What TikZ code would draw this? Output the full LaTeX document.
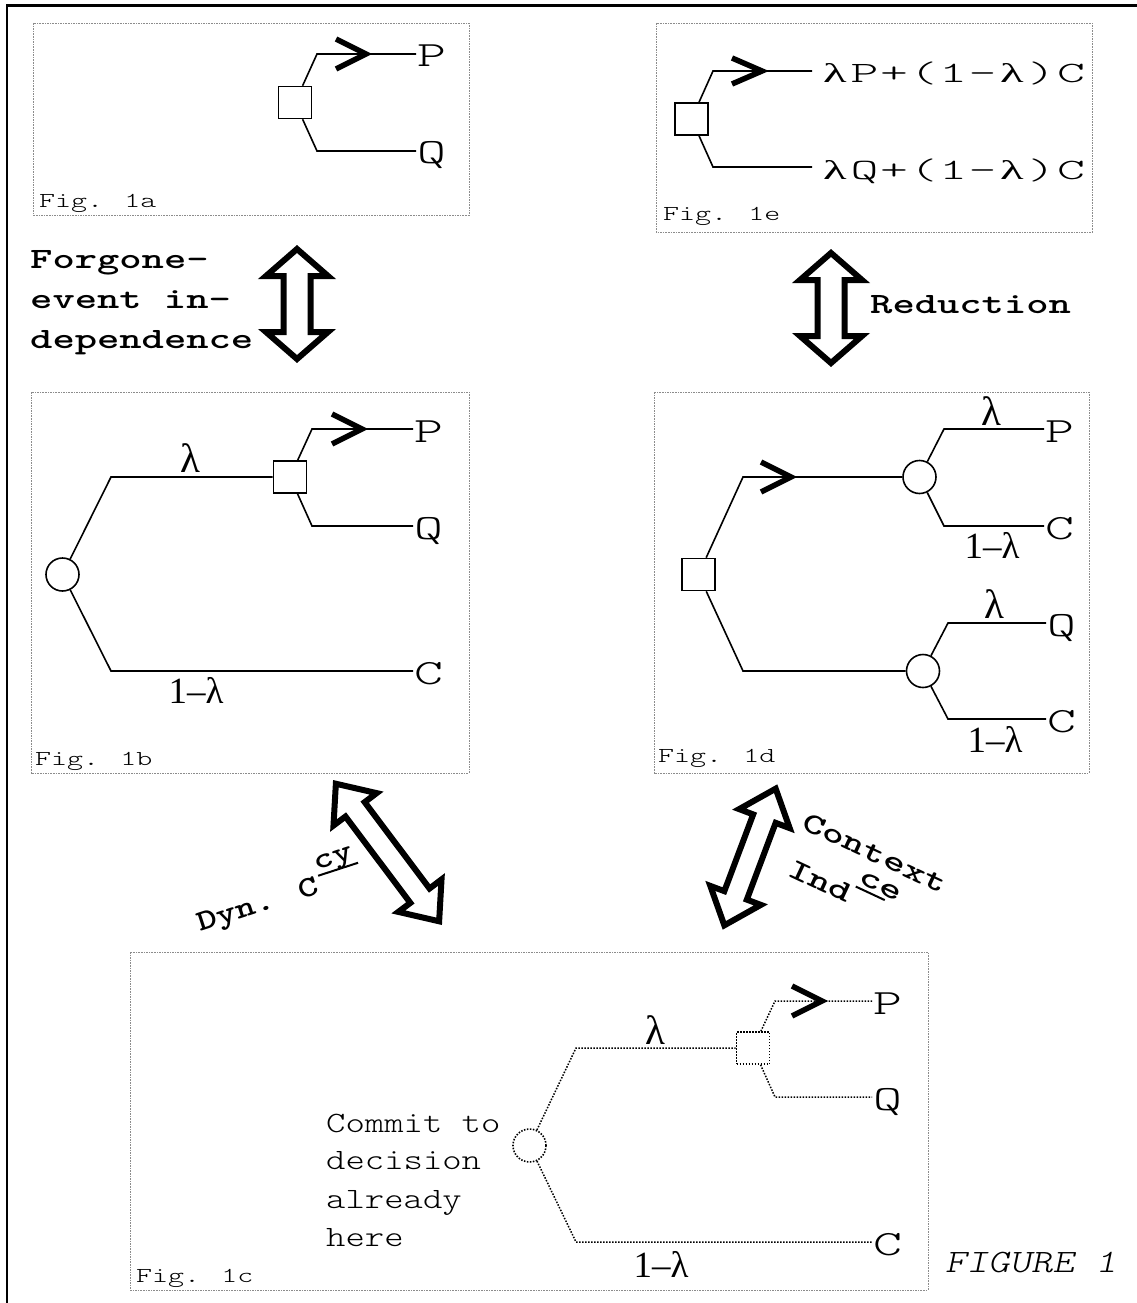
\documentclass[tikz,border=0pt]{standalone}
\usepackage{fontspec}
\usepackage{graphicx}
\setmainfont{lmmonolt10-regular.otf}
\newfontfamily\FigFont[FakeStretch=1.43]{lmmonolt10-regular.otf}
\newfontfamily\BoldFont[FakeStretch=1.44]{lmmonolt10-bold.otf}
\newfontfamily\DynFont[FakeStretch=1.29]{lmmonolt10-bold.otf}
\newfontfamily\TextFont[FakeStretch=1.25]{lmmonolt10-regular.otf}
\newfontfamily\ItFont[FakeStretch=1.25]{lmmonolt10-oblique.otf}
\newfontfamily\LeafFont[FakeStretch=1.55]{lmmonolt10-regular.otf}
\newfontfamily\PlainMono{lmmonolt10-regular.otf}
\newfontfamily\LamFont{Liberation Serif}
\newcommand\Slot[1]{\makebox[29.5pt]{\scalebox{1.8}[1]{#1}}}
\newcommand\SerifSl[1]{{\LamFont\fontsize{27}{27}\selectfont #1}}
\newcommand\ExprText[1]{\Slot{\SerifSl{λ}}\Slot{#1}\Slot{+}\Slot{(}\Slot{1}\Slot{-}\Slot{\SerifSl{λ}}\Slot{)}\Slot{C}}
\newcommand\HollowArrow[6]{%
\begin{scope}[shift={(#1)},rotate=#2]
\draw[hollow] (0,-#3) -- (#5,{-#3+#4}) -- (#6,{-#3+#4}) -- (#6,{#3-#4}) -- (#5,{#3-#4}) -- (0,#3)
  -- (-#5,{#3-#4}) -- (-#6,{#3-#4}) -- (-#6,{-#3+#4}) -- (-#5,{-#3+#4}) -- cycle;
\end{scope}}
\begin{document}
\begin{tikzpicture}[x=1pt,y=-1pt,
 box/.style={draw=black!45, line width=0.8pt, dash pattern=on 1.6pt off 1pt},
 br/.style={line width=1.6pt},
 dbr/.style={line width=1.5pt, dash pattern=on 1.5pt off 1.5pt},
 sq/.style={draw, rectangle, line width=1.6pt, minimum width=33pt, minimum height=32pt, inner sep=0pt},
 circ/.style={draw, circle, line width=1.6pt, minimum size=33pt, inner sep=0pt},
 chev/.style={line width=5.5pt, line join=miter, miter limit=10},
 leaf/.style={anchor=west, inner xsep=1pt, inner ysep=0pt, text height=26pt, text depth=0pt, font=\LeafFont\fontsize{35.5}{35.5}\selectfont},
 expr/.style={anchor=west, inner xsep=8pt, inner ysep=0pt, text height=24pt, text depth=0pt, font=\PlainMono\fontsize{29.5}{29.5}\selectfont},
 blab/.style={inner sep=0pt, font=\LamFont\fontsize{41}{41}\selectfont},
 blabb/.style={inner sep=0pt, font=\LamFont\fontsize{37}{37}\selectfont},
 figlab/.style={anchor=base west, inner sep=0pt, font=\FigFont\fontsize{21.3}{21.3}\selectfont},
 boldlab/.style={anchor=base west, inner sep=0pt, font=\BoldFont\fontsize{29.5}{29.5}\selectfont},
 note/.style={anchor=base west, inner sep=0pt, font=\TextFont\fontsize{29.5}{29.5}\selectfont},
 hollow/.style={draw, fill=white, line width=6pt, line join=miter, miter limit=6}
]
\useasboundingbox (0,0) rectangle (1137,1303);
\fill[white] (0,0) rectangle (1137,1303);
% outer frame
\draw[line width=2.5pt] (7.2,1310) -- (7.2,5.3) -- (1145,5.3);

% frames
\draw[box] (33,23) rectangle (469,215);
\draw[box] (656,23) rectangle (1092,232);
\draw[box] (31,392) rectangle (469,773);
\draw[box] (654,392) rectangle (1089,773);
\draw[box] (130,952) rectangle (928,1290);

% ---------- Fig 1a ----------
\node[sq] (a-sq) at (295,102.5) {};
\coordinate (a-b1) at (317,54);
\coordinate (a-b2) at (317,151);
\node[leaf] (a-P) at (416,54) {P};
\node[leaf] (a-Q) at (416,151) {Q};
\draw[br] (a-sq) -- (a-b1) -- (a-P.west);
\draw[br] (a-sq) -- (a-b2) -- (a-Q.west);
\coordinate (a-tip) at (366,54);
\draw[chev] (a-tip) ++(-30,-15) -- (a-tip) -- ++(-30,15);
\node[figlab] (a-fig) at (39,207) {Fig. 1a};

% ---------- Fig 1e ----------
\node[sq] (e-sq) at (691.5,119) {};
\coordinate (e-b1) at (713,71);
\coordinate (e-b2) at (713,167);
\node[expr] (e-1) at (812,71) {\ExprText{P}};
\node[expr] (e-2) at (812,167) {\ExprText{Q}};
\draw[br] (e-sq) -- (e-b1) -- (e-1.west);
\draw[br] (e-sq) -- (e-b2) -- (e-2.west);
\coordinate (e-tip) at (762,71);
\draw[chev] (e-tip) ++(-30,-13) -- (e-tip) -- ++(-30,13);
\node[figlab] (e-fig) at (663,220) {Fig. 1e};

% ---------- Fig 1b ----------
\node[circ] (b-c) at (62.5,574.5) {};
\node[sq] (b-sq) at (290,477) {};
\coordinate (b-b1) at (111,477);
\coordinate (b-b2) at (312,429);
\coordinate (b-b3) at (312,526);
\coordinate (b-b4) at (111,671);
\node[leaf] (b-P) at (413,429) {P};
\node[leaf] (b-Q) at (413,526) {Q};
\node[leaf] (b-C) at (413,671) {C};
\draw[br] (b-c) -- (b-b1) -- (b-sq);
\draw[br] (b-sq) -- (b-b2) -- (b-P.west);
\draw[br] (b-sq) -- (b-b3) -- (b-Q.west);
\draw[br] (b-c) -- (b-b4) -- (b-C.west);
\coordinate (b-tip) at (362,429);
\draw[chev] (b-tip) ++(-30,-15) -- (b-tip) -- ++(-30,15);
\node[blab] (b-l1) at (190,458) {λ};
\node[blabb] (b-l2) at (196,690) {1–λ};
\node[figlab] (b-fig) at (35,765) {Fig. 1b};

% ---------- Fig 1d ----------
\node[sq] (d-sq) at (698.5,574.5) {};
\node[circ] (d-c1) at (919.5,477) {};
\node[circ] (d-c2) at (923,671) {};
\coordinate (d-b1) at (743,477);
\coordinate (d-b2) at (743,671);
\coordinate (d-b3) at (944,429);
\coordinate (d-b4) at (944,526);
\coordinate (d-b5) at (948,623);
\coordinate (d-b6) at (948,719);
\node[leaf] (d-P) at (1044,429) {P};
\node[leaf] (d-C1) at (1044,526) {C};
\node[leaf] (d-Q) at (1046,623) {Q};
\node[leaf] (d-C2) at (1046,719) {C};
\draw[br] (d-sq) -- (d-b1) -- (d-c1);
\draw[br] (d-sq) -- (d-b2) -- (d-c2);
\draw[br] (d-c1) -- (d-b3) -- (d-P.west);
\draw[br] (d-c1) -- (d-b4) -- (d-C1.west);
\draw[br] (d-c2) -- (d-b5) -- (d-Q.west);
\draw[br] (d-c2) -- (d-b6) -- (d-C2.west);
\coordinate (d-tip) at (791,477);
\draw[chev] (d-tip) ++(-30,-15) -- (d-tip) -- ++(-30,15);
\node[blab] (d-l1) at (991,411) {λ};
\node[blabb] (d-l2) at (992,545) {1–λ};
\node[blab] (d-l3) at (994,604) {λ};
\node[blabb] (d-l4) at (995,739) {1–λ};
\node[figlab] (d-fig) at (658,762) {Fig. 1d};

% ---------- Fig 1c ----------
\node[circ, dash pattern=on 1.5pt off 1.5pt] (c-c) at (529.5,1145.5) {};
\node[sq, dash pattern=on 1.5pt off 1.5pt] (c-sq) at (753,1048) {};
\coordinate (c-b1) at (576,1048);
\coordinate (c-b2) at (775,1001);
\coordinate (c-b3) at (775,1097);
\coordinate (c-b4) at (576,1242);
\node[leaf] (c-P) at (872,1001) {P};
\node[leaf] (c-Q) at (872,1097) {Q};
\node[leaf] (c-C) at (872,1242) {C};
\draw[dbr] (c-c) -- (c-b1) -- (c-sq);
\draw[dbr] (c-sq) -- (c-b2) -- (c-P.west);
\draw[dbr] (c-sq) -- (c-b3) -- (c-Q.west);
\draw[dbr] (c-c) -- (c-b4) -- (c-C.west);
\coordinate (c-tip) at (822,1001);
\draw[chev] (c-tip) ++(-30,-15) -- (c-tip) -- ++(-30,15);
\node[blab] (c-l1) at (655,1030) {λ};
\node[blabb] (c-l2) at (661,1264) {1–λ};
\node[note] (c-t1) at (326,1132) {Commit to};
\node[note] (c-t2) at (326,1169) {decision};
\node[note] (c-t3) at (326,1208) {already};
\node[note] (c-t4) at (326,1246) {here};
\node[figlab] (c-fig) at (136,1282) {Fig. 1c};

% ---------- transformation arrows ----------
\HollowArrow{297,304}{0}{55}{27}{31}{13.5}
\HollowArrow{831,308}{0}{55}{27}{31}{13.5}
\HollowArrow{387.5,852.5}{36.9}{86}{32}{27}{12}
\HollowArrow{750,857}{-20.6}{73}{32}{27}{12}

\node[boldlab] (fe1) at (30,268) {Forgone-};
\node[boldlab] (fe2) at (30,308) {event in-};
\node[boldlab] (fe3) at (30,348) {dependence};
\node[boldlab] (red) at (870,313) {Reduction};
\node[boldlab, font=\DynFont\fontsize{29.5}{29.5}\selectfont, rotate=18] (dyn) at (200,932)
  {Dyn. C\kern3pt\rlap{\raisebox{16pt}{\rule{42pt}{2pt}}}\raisebox{22pt}{cy}};
\node[boldlab, rotate=-25] (ctx) at (800,828) {Context};
\node[boldlab, rotate=-25] (ind) at (786,875)
  {Ind\kern1pt\rlap{\raisebox{18pt}{\rule{32pt}{2pt}}}\raisebox{23pt}{ce}};

\node[anchor=base west, inner sep=0pt, font=\ItFont\fontsize{32.7}{32.7}\selectfont] (fig1) at (945,1272) {FIGURE 1};
\end{tikzpicture}
\end{document}
